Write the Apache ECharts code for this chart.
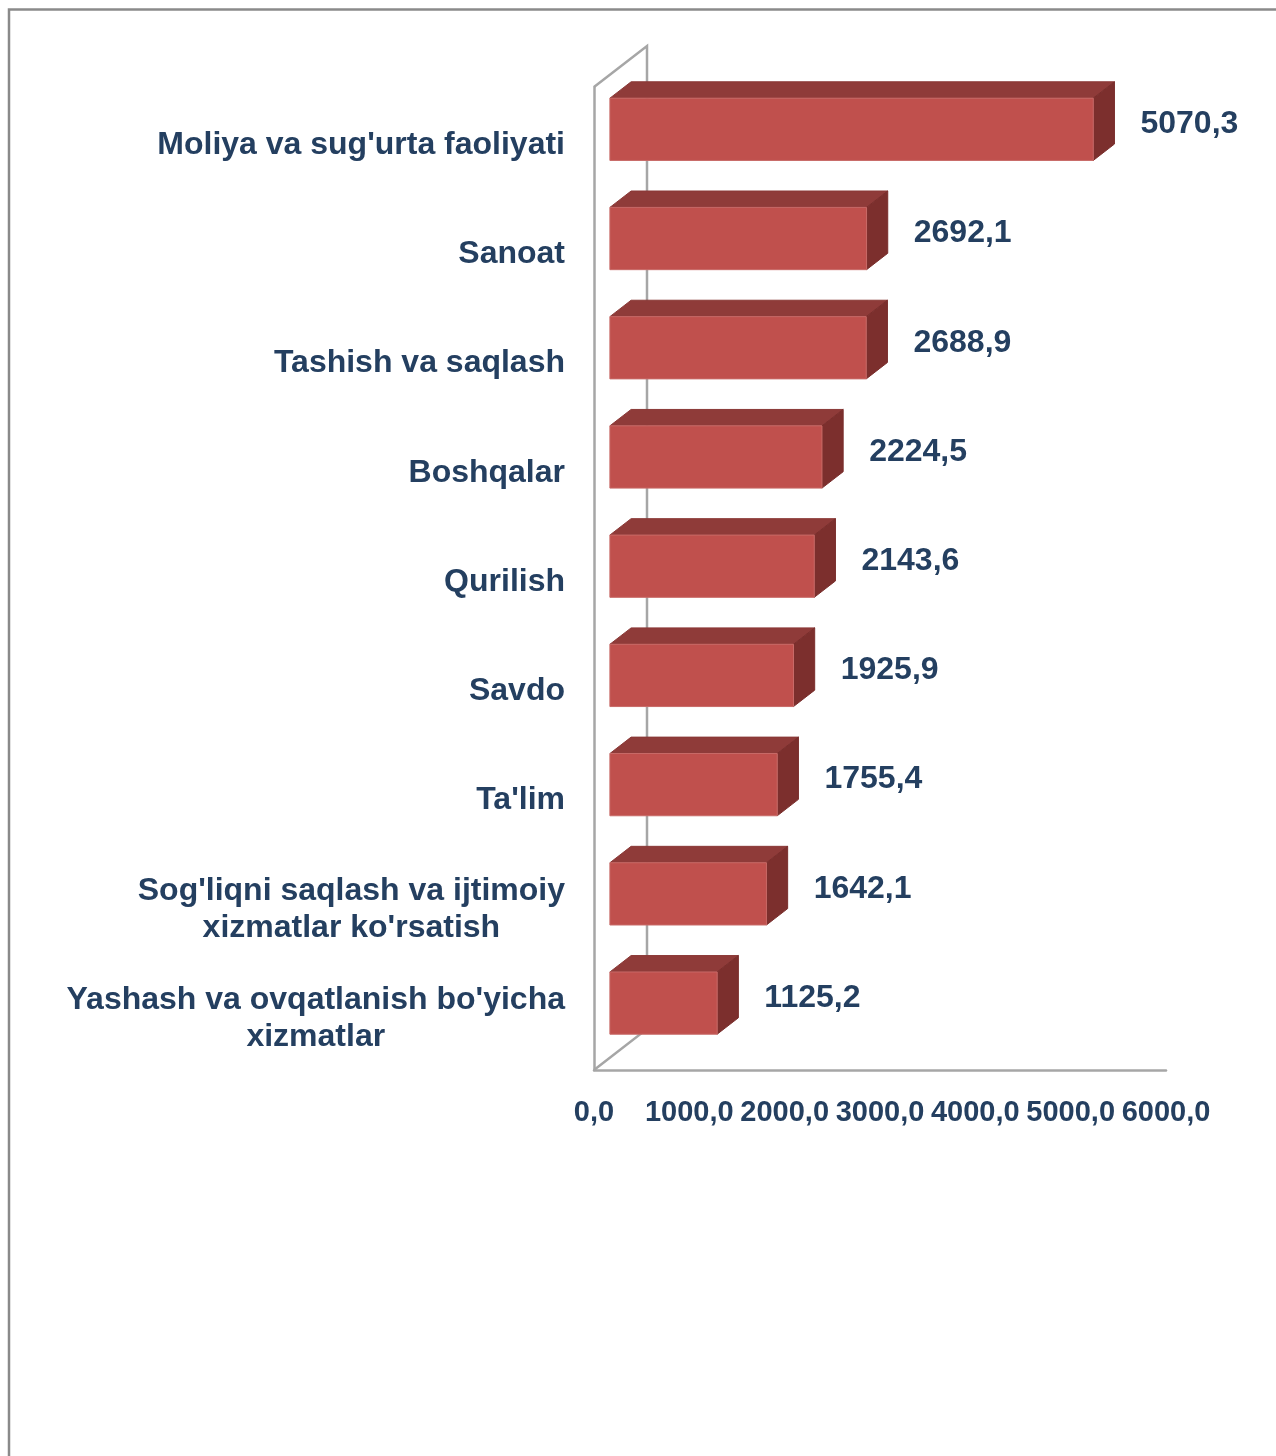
<!DOCTYPE html>
<html>
<head>
<meta charset="utf-8">
<script src="https://cdn.jsdelivr.net/npm/echarts@6/dist/echarts.min.js"></script>
<style>
  html, body { margin: 0; padding: 0; background: #fff; }
  #chart { width: 1276px; height: 1456px; }
</style>
</head>
<body>
<div id="chart"></div>
<script>
// 数据
var categories = [
    "Moliya va sug'urta faoliyati",
    "Sanoat",
    "Tashish va saqlash",
    "Boshqalar",
    "Qurilish",
    "Savdo",
    "Ta'lim",
    "Sog'liqni saqlash va ijtimoiy\nxizmatlar ko'rsatish",
    "Yashash va ovqatlanish bo'yicha\nxizmatlar"
];
var values = [5070.3, 2692.1, 2688.9, 2224.5, 2143.6, 1925.9, 1755.4, 1642.1, 1125.2];
var ticks = [0, 1000, 2000, 3000, 4000, 5000, 6000];

var TEXT = '#243f60';
var FONT = '"Liberation Sans", Arial, sans-serif';
var DX = 53, DY = -41;       // 3D深度偏移
var BAR = 0.57;

function fmt(v) {
    return v.toFixed(1).replace('.', ',');
}

var barData = values.map(function (v, i) { return [v, i]; });

// 背景墙
function renderFrame(params, api) {
    var band = api.size([0, 1])[1];
    var x0 = api.coord([0, 0])[0];
    var top = api.coord([0, 0])[1] - band / 2;
    var bottom = api.coord([0, categories.length - 1])[1] + band / 2;
    return {
        type: 'polyline',
        shape: { points: [[x0, top], [x0 + DX, top + DY], [x0 + DX, bottom + DY], [x0, bottom]] },
        style: { stroke: '#a6a6a6', lineWidth: 2.5, fill: null }
    };
}

// 立体柱
function renderBar(params, api) {
    var val = api.value(0), cat = api.value(1);
    var p0 = api.coord([0, cat]);
    var p1 = api.coord([val, cat]);
    var h = api.size([0, 1])[1] * BAR;
    var fx = DX * 0.3, fy = DY * 0.3, bx = DX * 0.7, by = DY * 0.7;
    var xl = p0[0] + fx, xr = p1[0] + fx;
    var yt = p0[1] - h / 2 + fy, yb = p0[1] + h / 2 + fy;
    var ox = bx - fx, oy = by - fy;
    return {
        type: 'group',
        children: [
            {
                type: 'polygon',
                shape: { points: [[xl, yt], [xl + ox, yt + oy], [xr + ox, yt + oy], [xr, yt]] },
                style: { fill: '#8f3b39', stroke: '#8a3937', lineWidth: 1 }
            },
            {
                type: 'polygon',
                shape: { points: [[xr, yt], [xr + ox, yt + oy], [xr + ox, yb + oy], [xr, yb]] },
                style: { fill: '#7c2f2d', stroke: '#7a2e2c', lineWidth: 1 }
            },
            {
                type: 'rect',
                shape: { x: xl, y: yt, width: xr - xl, height: yb - yt },
                style: { fill: '#c0504d', stroke: '#c86a67', lineWidth: 1 }
            },
            {
                type: 'text',
                style: {
                    x: xr + ox + 26,
                    y: (yt + yb) / 2 - 5,
                    text: fmt(val),
                    fill: TEXT,
                    font: 'bold 32px ' + FONT,
                    align: 'left',
                    verticalAlign: 'middle'
                }
            }
        ]
    };
}

var myChart = echarts.init(document.getElementById('chart'));
var option = {
    backgroundColor: '#fff',
    animation: false,
    graphic: [{
        type: 'rect',
        shape: { x: 9, y: 9.5, width: 1400, height: 1600 },
        style: { fill: null, stroke: '#8a8a8a', lineWidth: 2.5 },
        silent: true
    }],
    grid: { left: 594, top: 87, right: 110, bottom: 386 },
    xAxis: {
        type: 'value',
        min: 0,
        max: 6000,
        interval: 1000,
        splitLine: { show: false },
        axisTick: { show: false },
        axisLine: { show: true, lineStyle: { color: '#a6a6a6', width: 2.5 } },
        axisLabel: {
            margin: 28,
            color: TEXT,
            fontSize: 29,
            fontWeight: 'bold',
            fontFamily: FONT,
            formatter: function (v) { return ticks.indexOf(v) >= 0 ? fmt(v) : ''; }
        }
    },
    yAxis: {
        type: 'category',
        inverse: true,
        data: categories,
        axisTick: { show: false },
        axisLine: { show: true, lineStyle: { color: '#a6a6a6', width: 2.5 } },
        axisLabel: {
            margin: 29,
            align: 'right',
            padding: [7, 0, 0, 0],
            formatter: function (v) {
                return v.split('\n').map(function (s) { return '{c|' + s + '}'; }).join('\n');
            },
            rich: {
                c: {
                    align: 'center',
                    color: TEXT,
                    fontSize: 32,
                    fontWeight: 'bold',
                    fontFamily: FONT,
                    lineHeight: 37
                }
            }
        }
    },
    series: [
        {
            type: 'custom',
            renderItem: renderFrame,
            encode: { x: 0, y: 1 },
            data: [[0, 0]],
            silent: true,
            z: 1
        },
        {
            type: 'custom',
            renderItem: renderBar,
            encode: { x: 0, y: 1 },
            data: barData,
            z: 2
        }
    ]
};
myChart.setOption(option, true);
</script>
</body>
</html>
